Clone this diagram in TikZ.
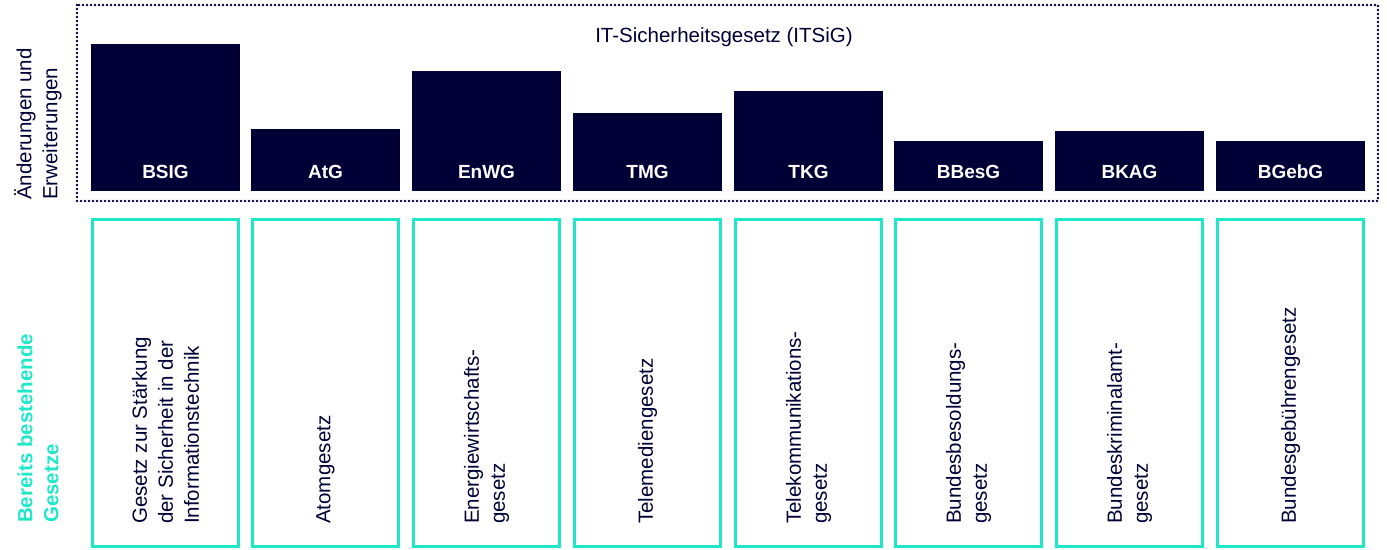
\documentclass[tikz,border=0pt]{standalone}
\usepackage{fontspec}
\setmainfont{Liberation Sans}
\definecolor{navy}{RGB}{0,0,54}
\definecolor{mint}{RGB}{30,232,200}
\tikzset{
  lawbar/.style={fill=navy, draw=none},
  lawframe/.style={draw=mint, line width=3pt, fill=none},
  barlabel/.style={text=white, font=\fontsize{19}{22}\selectfont\bfseries, inner sep=0pt},
  longtext/.style={text=navy, font=\fontsize{20.5}{26}\selectfont, align=left, rotate=90, anchor=west, inner sep=0pt},
  dotframe/.style={draw=navy, line width=2.6pt, dash pattern=on 0pt off 4pt, line cap=round}
}
\begin{document}
\begin{tikzpicture}[x=1pt,y=-1pt]
\useasboundingbox (0,0) rectangle (1387,549);
\draw[dotframe] (77,5) rectangle (1378,201);
\node[text=navy, font=\fontsize{20.5}{24}\selectfont, inner sep=0pt] (title) at (724,37) {IT-Sicherheitsgesetz (ITSiG)};
\node[longtext] (lblA) at (38,200) {Änderungen und\\Erweiterungen};
\node[longtext, text=mint, font=\fontsize{20.5}{26}\selectfont\bfseries] (lblB) at (38,523) {Bereits bestehende\\Gesetze};
\foreach \i/\xl/\yt/\sname/\lname in {
  1/91/44/BSIG/{Gesetz zur Stärkung\\der Sicherheit in der\\Informationstechnik},
  2/251/129/AtG/{Atomgesetz},
  3/412/71/EnWG/{Energiewirtschafts-\\gesetz},
  4/573/113/TMG/{Telemediengesetz},
  5/734/91/TKG/{Telekommunikations-\\gesetz},
  6/894/141/BBesG/{Bundesbesoldungs-\\gesetz},
  7/1055/131/BKAG/{Bundeskriminalamt-\\gesetz},
  8/1216/141/BGebG/{Bundesgebührengesetz}}{
  \fill[lawbar] (\xl,\yt) rectangle (\xl+149,191);
  \node[barlabel] (s\i) at (\xl+74.5,172) {\sname};
  \draw[lawframe] (\xl+1.5,219.5) rectangle (\xl+147.5,546.5);
  \node[longtext] (l\i) at (\xl+74.5,524) {\lname};
}
\end{tikzpicture}
\end{document}
